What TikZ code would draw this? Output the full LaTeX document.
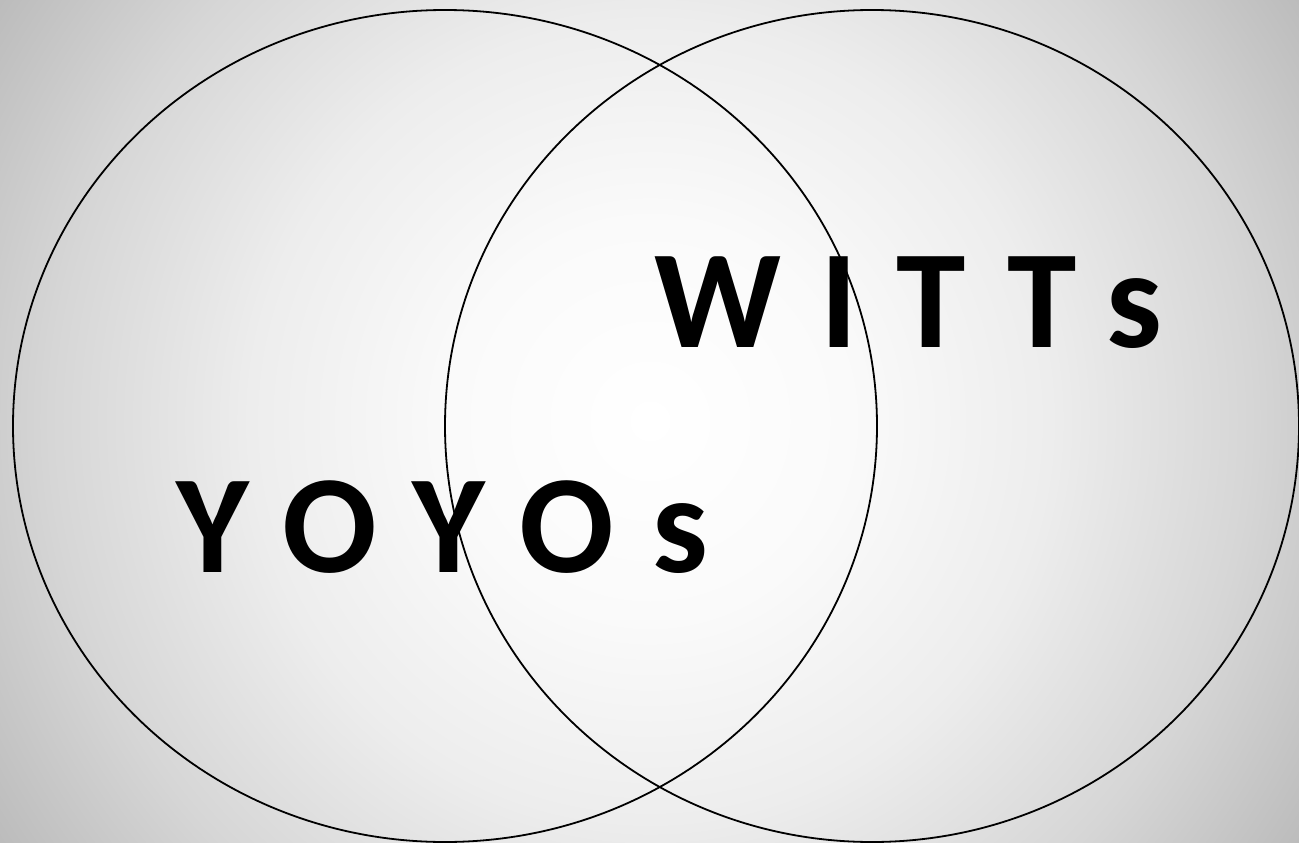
\documentclass[tikz,border=0pt]{standalone}
\usepackage{fontspec}
\usepackage{xcolor}
\usetikzlibrary{positioning, shapes.geometric}
\newfontfamily\vennfont[LetterSpace=28]{Carlito}
\definecolor{GlowA}{HTML}{FFFFFF}
\definecolor{GlowB}{HTML}{FAFAFA}
\definecolor{GlowC}{HTML}{EDEDED}
\definecolor{GlowD}{HTML}{D6D6D6}
\definecolor{GlowE}{HTML}{B8B8B8}
\pgfdeclareradialshading{softglow}{\pgfpoint{0bp}{0bp}}{%
  color(0bp)=(GlowA); color(6.25bp)=(GlowB); color(12.5bp)=(GlowC);
  color(18.75bp)=(GlowD); color(25bp)=(GlowE); color(50bp)=(GlowE)}
\tikzset{
  ring/.style={draw=black, ellipse, line width=1.8pt, inner sep=0pt},
  tag/.style={font=\vennfont\bfseries\fontsize{140}{140}\selectfont,
              inner sep=0pt, anchor=base west}
}

\begin{document}
\begin{tikzpicture}[x=1pt, y=-1pt]

  % ----- background -----
  \useasboundingbox (0,0) rectangle (1299,843);
  \begin{scope}
    \clip (0,0) rectangle (1299,843);
    \fill[shading=softglow] (-150,-379) rectangle (1450,1221);
  \end{scope}

  % ----- the two sets -----
  \node[ring, minimum width=864pt, minimum height=832pt] (left) at (445,426) {};
  \node[ring, minimum width=854pt, minimum height=832pt] (right) at (872,426) {};

  % ----- labels -----
  \node[tag] (yoyos) at (176,572) {YOYOs};
  \node[tag] (witts) at (654,347) {WITTs};

\end{tikzpicture}
\end{document}
